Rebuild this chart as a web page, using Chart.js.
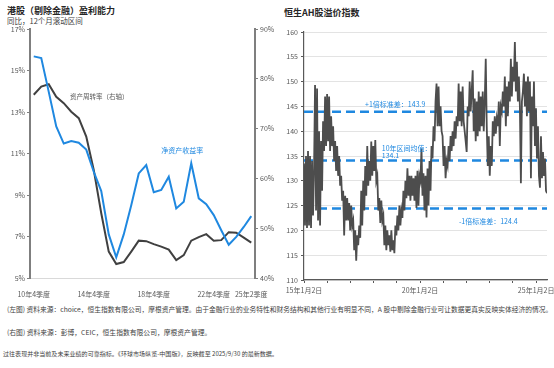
<!DOCTYPE html>
<html>
<head>
<meta charset="utf-8">
<script src="https://cdn.jsdelivr.net/npm/chart.js@4.4.1/dist/chart.umd.min.js"></script>
<style>
  body { margin: 0; width: 554px; height: 368px; background: #fff; position: relative; overflow: hidden;
         font-family: "Noto Sans CJK SC", "Noto Sans", sans-serif; color: #262626; }
  .t { position: absolute; white-space: nowrap; }
  .title { font-size: 9px; font-weight: bold; color: #262626; }
  .sub { font-size: 7.5px; color: #404040; }
  .note { color: #404040; }
  .box { position: absolute; }
</style>
</head>
<body>
<div class="t title" style="left:7px; top:4px;">港股（剔除金融）盈利能力</div>
<div class="t sub" style="left:7px; top:15px;">同比，12个月滚动区间</div>
<div class="t title" style="left:284px; top:6px;">恒生AH股溢价指数</div>

<div class="box" style="left:0; top:18px;"><canvas id="left" width="280" height="280"></canvas></div>
<div class="box" style="left:280px; top:18px;"><canvas id="right" width="274" height="282"></canvas></div>

<div class="t note" style="left:7px; top:304px; font-size:6.75px;">(左图) 资料来源：choice，恒生指数有限公司，摩根资产管理。由于金融行业的业务特性和财务结构和其他行业有明显不同，A 股中剔除金融行业可让数据更真实反映实体经济的情况。</div>
<div class="t note" style="left:7px; top:327px; font-size:6.8px;">(右图) 资料来源：彭博，CEIC，恒生指数有限公司，摩根资产管理。</div>
<div class="t note" style="left:3px; top:349px; font-size:6.05px;">过往表现并非当前及未来业绩的可靠指标。《环球市场纵览-中国版》，反映截至 2025/9/30 的最新数据。</div>

<script>
// 左图：半年度数据
const quarterLabels = ['10年4季度','11年2季度','11年4季度','12年2季度','12年4季度','13年2季度','13年4季度','14年2季度',
  '14年4季度','15年2季度','15年4季度','16年2季度','16年4季度','17年2季度','17年4季度','18年2季度',
  '18年4季度','19年2季度','19年4季度','20年2季度','20年4季度','21年2季度','21年4季度','22年2季度',
  '22年4季度','23年2季度','23年4季度','24年2季度','24年4季度','25年2季度'];
const shownQuarterLabels = ['10年4季度','14年4季度','18年4季度','22年4季度','25年2季度'];

// 净资产收益率 (%)，左轴
const roe = [15.68,15.6,13.97,12.3,11.48,11.6,11.52,11.19,10.12,9.19,7.1,6.0,7.1,8.51,10.04,
  10.44,9.13,9.24,9.88,8.35,8.67,10.53,8.84,8.56,8.03,7.3,6.6,6.98,7.46,7.98];
// 资产周转率 (%)，右轴
const turnover = [76.8,78.45,78.9,76.4,75.1,73.4,72.1,68.4,61.7,53.0,45.3,42.8,43.2,45.3,47.5,
  47.4,46.8,46.3,45.7,43.6,44.6,47.5,48.2,48.8,47.5,47.6,49.2,49.1,48.1,47.1];

// 右图：恒生AH股溢价指数，自15年1月2日起约每15.8天取一个读数
const ahStartYear = 2015;
const ahStepDays = 15.8;
const ahIndex = [
  133.5,121,135,120.5,136,121,135,120.5,134,123, 132,149.3,124,148.6,122,140,121,138,128,142,
  136,147,137,147.5,138,147,136,143,137,141, 134,138,132,137,131,135,129,131,126,128,
  119,127,122,126.5,122,125.5,120,125,121,122, 116,120,113.9,119,117,121,118.5,128,121,130,
  124,133,127,137,129,134,130,137.9,131,137, 132,138.2,130,131,124,126.5,121.5,126,122,123,
  117,121,116,120,117,119,115.7,120,116,118, 115.4,121,119,123,120,125,121,124,122.5,128,
  124,130,126.5,132.5,127,131,126,131,127,130.5, 126,131,124.5,132,125,131,130,136.5,127,131.5,
  124,131,122.6,132.5,125,134,128,137,134.5,141, 138,146,149.6,141,149,141,145,140,139,133,
  137,130.5,134,133,137,134,139,136,140,137, 142,138.5,143,141,149.6,142,148,141,149,142,
  140,138,135.8,145,143,150,144,148,152.3,140, 146.6,138,146,139,148,140,147,141,148,140,
  146,154.6,141,133,139,131,137,133,142,139, 143,139.5,142.5,141,146,137,145,144,148,145,
  151,141,149,143,150,146,154.6,147,153,150, 158,148,154,146,151,145,129.5,146,148,151.6,
  145,150,143,151,144,150,130.5,147,141,150, 137,144.6,134.5,141,131,128.6,139,130.5,135.8,131,
  134.5,128,127.5
];
const ahMean = 134.1;
const ahPlus1Sd = 143.9;
const ahMinus1Sd = 124.4;

const ahYears = ahIndex.map((v, i) => ahStartYear + i * ahStepDays / 365.25);
const ahLastYear = ahYears[ahYears.length - 1];

const FONT = '"Noto Sans CJK SC", "Noto Sans", sans-serif';
const BLUE = '#1f88e0';
const DARK = '#404040';
const AXIS = '#7f7f7f';
const TICK = '#595959';

Chart.defaults.font.family = FONT;
Chart.defaults.font.size = 7;
Chart.defaults.color = TICK;

// 图上文字注记
const notesPlugin = {
  id: 'notes',
  afterDatasetsDraw(chart, args, opts) {
    const ctx = chart.ctx;
    (opts.items || []).forEach(it => {
      const x = chart.scales.x.getPixelForValue(it.x);
      const y = chart.scales[it.axis || 'y'].getPixelForValue(it.y) + (it.dy || 0);
      ctx.save();
      ctx.font = (it.size || 7) + 'px ' + FONT;
      ctx.fillStyle = it.color;
      ctx.textAlign = it.align || 'center';
      ctx.textBaseline = 'middle';
      ctx.fillText(it.text, x, y);
      ctx.restore();
    });
  }
};

new Chart(document.getElementById('left'), {
  type: 'line',
  data: {
    labels: quarterLabels,
    datasets: [
      { label: '净资产收益率', data: roe, yAxisID: 'y', borderColor: BLUE, borderWidth: 2, pointRadius: 0, tension: 0 },
      { label: '资产周转率（右轴）', data: turnover, yAxisID: 'y1', borderColor: DARK, borderWidth: 2, pointRadius: 0, tension: 0 }
    ]
  },
  options: {
    responsive: false,
    animation: false,
    layout: { padding: { top: 11 } },
    plugins: {
      legend: { display: false },
      tooltip: { enabled: false },
      notes: { items: [
        { text: '资产周转率（右轴）', x: 4.83, y: 13.75, color: '#595959', align: 'left', size: 6.5 },
        { text: '净资产收益率', x: 19.8, y: 11.13, color: BLUE }
      ] }
    },
    scales: {
      x: {
        offset: true,
        grid: { display: false },
        border: { display: true, color: '#d9d9d9', width: 1 },
        ticks: {
          autoSkip: false, maxRotation: 0, padding: 4,
          callback: function (v) {
            const lab = this.getLabelForValue(v);
            return shownQuarterLabels.includes(lab) ? lab : '';
          }
        },
        afterFit: s => { s.height = 20; s.paddingLeft = 0; s.paddingRight = 0; }
      },
      y: {
        position: 'left', min: 5, max: 17,
        ticks: { stepSize: 2, padding: 2, callback: v => v + '%' },
        grid: { drawOnChartArea: false, drawTicks: true, tickLength: 3, tickColor: AXIS },
        border: { color: AXIS, width: 2 },
        afterFit: s => { s.width = 30; }
      },
      y1: {
        position: 'right', min: 40, max: 90,
        ticks: { stepSize: 10, padding: 2, callback: v => v + '%' },
        grid: { drawOnChartArea: false, drawTicks: true, tickLength: 3, tickColor: AXIS },
        border: { color: AXIS, width: 2 },
        afterFit: s => { s.width = 25; }
      }
    }
  },
  plugins: [notesPlugin]
});

function refLine(v) {
  return {
    data: [{ x: ahStartYear, y: v }, { x: ahLastYear, y: v }],
    borderColor: BLUE, borderWidth: 2.5, borderDash: [9, 5], pointRadius: 0, tension: 0
  };
}

new Chart(document.getElementById('right'), {
  type: 'line',
  data: {
    datasets: [
      { label: '恒生AH股溢价指数', data: ahIndex.map((v, i) => ({ x: ahYears[i], y: v })),
        borderColor: '#4d4d4d', borderWidth: 1.8, pointRadius: 0, tension: 0 },
      refLine(ahPlus1Sd),
      refLine(ahMean),
      refLine(ahMinus1Sd)
    ]
  },
  options: {
    responsive: false,
    animation: false,
    layout: { padding: { top: 14, right: 7 } },
    plugins: {
      legend: { display: false },
      tooltip: { enabled: false },
      notes: { items: [
        { text: '+1倍标准差：' + ahPlus1Sd, x: 2018.93, y: ahPlus1Sd, dy: -8, color: BLUE },
        { text: '10年区间均值：', x: 2018.35, y: ahMean, dy: -12, color: BLUE, align: 'left' },
        { text: String(ahMean), x: 2018.35, y: ahMean, dy: -5, color: BLUE, align: 'left' },
        { text: '-1倍标准差：' + ahMinus1Sd, x: 2022.94, y: ahMinus1Sd, dy: 13, color: BLUE }
      ] }
    },
    scales: {
      x: {
        type: 'linear', min: ahStartYear, max: ahLastYear,
        grid: { drawOnChartArea: false, drawTicks: true, tickLength: 3, tickColor: TICK },
        border: { color: TICK, width: 1.2 },
        ticks: {
          stepSize: 1, autoSkip: false, maxRotation: 0, padding: 3, includeBounds: false,
          callback: v => (Math.abs(v % 5) < 1e-6 ? String(Math.round(v)).slice(2) + '年1月2日' : '')
        },
        afterFit: s => { s.height = 20; s.paddingLeft = 0; s.paddingRight = 0; }
      },
      y: {
        min: 110, max: 160,
        ticks: { stepSize: 5, padding: 3 },
        grid: { color: '#e3e3e3', lineWidth: 1, drawTicks: true, tickLength: 3, tickColor: TICK },
        border: { color: TICK, width: 1.2 },
        afterFit: s => { s.width = 24; }
      }
    }
  },
  plugins: [notesPlugin]
});
</script>
</body>
</html>
